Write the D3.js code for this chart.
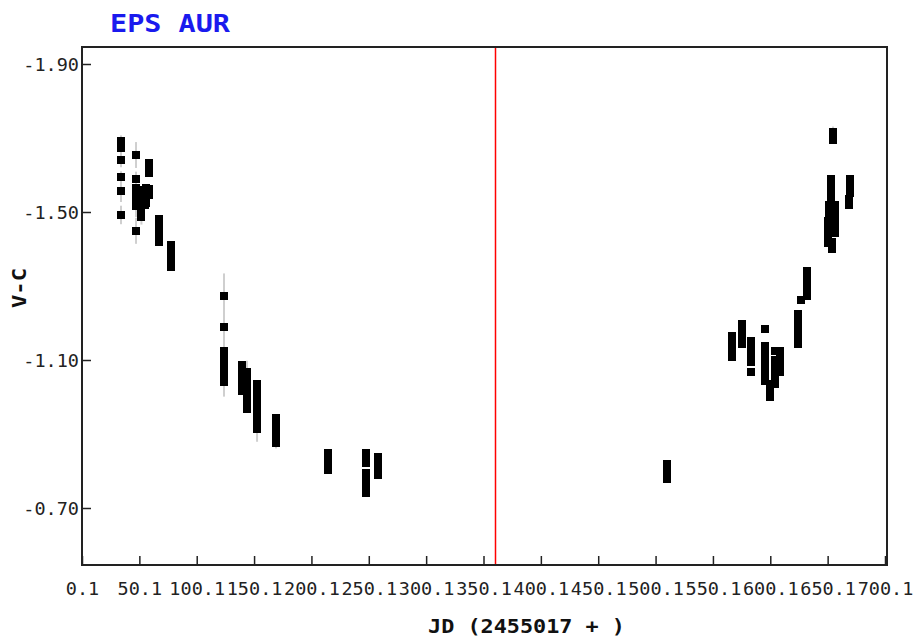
<!DOCTYPE html>
<html>
<head>
<meta charset="utf-8">
<script src="https://cdn.jsdelivr.net/npm/d3@7"></script>
<style>
  html, body { margin: 0; padding: 0; background: #ffffff; }
  svg { display: block; }
</style>
</head>
<body>
<div id="chart"></div>
<script>
// ---------- data ----------
const title = "EPS AUR";
const xTitle = "JD (2455017 + )";
const yTitle = "V-C";

// x ticks (JD offset) and their labels
const xTickValues = [0, 50, 100, 150, 200, 250, 300, 350, 400, 450, 500, 550, 600, 650, 700];
const xTickLabels = ["0.1", "50.1", "100.1", "150.1", "200.1", "250.1", "300.1", "350.1",
                     "400.1", "450.1", "500.1", "550.1", "600.1", "650.1", "700.1"];
const yTickValues = [-1.90, -1.50, -1.10, -0.70];
const yTickLabels = ["-1.90", "-1.50", "-1.10", "-0.70"];

// marker line (JD offset)
const markerJD = [360];

// observations: JD offset, V-C magnitude, error
const jd = [
  34.0, 34.0, 34.0, 34.0, 34.0, 34.0,
  47.1, 47.1, 47.1, 47.1, 47.1, 47.1, 47.1,
  50.6, 50.6, 51.2, 51.2, 51.8, 54.0, 54.0, 55.0, 55.5, 56.0,
  58.4, 58.4, 58.4, 58.4, 58.4,
  67.1, 67.1, 67.1, 67.1, 67.1,
  77.6, 77.6, 77.6, 77.6, 77.6,
  123.8, 123.8, 123.8, 123.8, 123.8, 123.8, 123.8,
  139.5, 139.5, 139.5, 139.5, 139.5,
  143.8, 143.8, 143.8, 143.8, 143.8, 143.8,
  152.6, 152.6, 152.6, 152.6, 152.6, 152.6, 152.6,
  169.1, 169.1, 169.1, 169.1, 169.1,
  214.5, 214.5, 214.5, 214.5,
  247.6, 247.6, 247.6, 247.6, 247.6, 247.6, 247.6, 247.6,
  258.0, 258.0, 258.0, 258.0, 258.0,
  509.9, 509.9, 509.9,
  566.6, 566.6, 566.6, 566.6,
  575.4, 575.4, 575.4, 575.4,
  583.2, 583.2, 583.2, 583.2, 583.2,
  595.4,
  595.4, 595.4, 595.4, 595.4, 595.4, 595.4,
  599.8, 599.8, 599.8,
  604.1, 604.1, 604.1, 604.1, 604.1,
  608.5, 608.5, 608.5, 608.5,
  624.2, 624.2, 624.2, 624.2, 624.2,
  626.8, 632.0,
  632.0, 632.0, 632.0, 632.0, 632.0,
  650.3, 650.3, 650.3, 650.3,
  653.8, 653.8,
  651.2, 651.2, 651.2, 651.2, 651.2,
  656.4, 656.4, 656.4, 656.4, 656.4,
  652.5, 652.5, 652.5, 652.5,
  654.7, 654.7,
  669.5, 669.5, 669.5, 668.8, 668.8
];
const vc = [
  -1.692, -1.673, -1.641, -1.595, -1.557, -1.492,
  -1.654, -1.589, -1.565, -1.549, -1.532, -1.516, -1.449,
  -1.559, -1.538, -1.516, -1.497, -1.486, -1.559, -1.541, -1.519, -1.565, -1.524,
  -1.632, -1.619, -1.605, -1.562, -1.546,
  -1.481, -1.465, -1.449, -1.432, -1.419,
  -1.411, -1.395, -1.378, -1.365, -1.351,
  -1.274, -1.189, -1.124, -1.105, -1.084, -1.062, -1.041,
  -1.086, -1.068, -1.046, -1.027, -1.016,
  -1.068, -1.046, -1.024, -1.003, -0.984, -0.968,
  -1.035, -1.014, -0.992, -0.970, -0.949, -0.930, -0.914,
  -0.943, -0.927, -0.908, -0.892, -0.876,
  -0.849, -0.830, -0.814, -0.803,
  -0.849, -0.836, -0.822, -0.795, -0.781, -0.768, -0.755, -0.741,
  -0.838, -0.825, -0.811, -0.800, -0.789,
  -0.819, -0.800, -0.778,
  -1.165, -1.146, -1.127, -1.108,
  -1.197, -1.178, -1.159, -1.143,
  -1.151, -1.132, -1.114, -1.095, -1.068,
  -1.185,
  -1.138, -1.119, -1.100, -1.081, -1.062, -1.043,
  -1.035, -1.014, -1.000,
  -1.124, -1.100, -1.078, -1.057, -1.035,
  -1.124, -1.105, -1.086, -1.068,
  -1.224, -1.203, -1.181, -1.159, -1.143,
  -1.262, -1.273,
  -1.341, -1.329, -1.316, -1.304, -1.292,
  -1.476, -1.454, -1.432, -1.416,
  -1.419, -1.400,
  -1.519, -1.500, -1.481, -1.462, -1.443,
  -1.519, -1.500, -1.481, -1.462, -1.443,
  -1.589, -1.570, -1.551, -1.530,
  -1.716, -1.695,
  -1.589, -1.570, -1.551, -1.535, -1.519
];
const err = [
  0.015, 0.015, 0.020, 0.015, 0.030, 0.025,
  0.035, 0.020, 0.010, 0.010, 0.010, 0.030, 0.035,
  0.010, 0.010, 0.010, 0.010, 0.020, 0.010, 0.010, 0.010, 0.010, 0.010,
  0.010, 0.010, 0.010, 0.010, 0.010,
  0.010, 0.010, 0.010, 0.010, 0.010,
  0.010, 0.010, 0.010, 0.010, 0.010,
  0.060, 0.050, 0.020, 0.020, 0.020, 0.020, 0.040,
  0.010, 0.010, 0.010, 0.010, 0.010,
  0.030, 0.010, 0.010, 0.010, 0.010, 0.010,
  0.010, 0.010, 0.010, 0.010, 0.010, 0.020, 0.035,
  0.010, 0.010, 0.010, 0.010, 0.015,
  0.005, 0.005, 0.005, 0.005,
  0.005, 0.005, 0.005, 0.005, 0.005, 0.005, 0.005, 0.005,
  0.005, 0.005, 0.005, 0.005, 0.005,
  0.005, 0.005, 0.005,
  0.005, 0.005, 0.005, 0.005,
  0.005, 0.005, 0.005, 0.005,
  0.005, 0.005, 0.005, 0.005, 0.005,
  0.005,
  0.005, 0.005, 0.005, 0.005, 0.005, 0.005,
  0.005, 0.005, 0.005,
  0.005, 0.005, 0.005, 0.005, 0.005,
  0.005, 0.005, 0.005, 0.005,
  0.005, 0.005, 0.005, 0.005, 0.005,
  0.005, 0.005,
  0.005, 0.005, 0.005, 0.005, 0.005,
  0.005, 0.005, 0.005, 0.005,
  0.005, 0.005,
  0.005, 0.005, 0.005, 0.005, 0.005,
  0.005, 0.005, 0.005, 0.005, 0.005,
  0.005, 0.005, 0.005, 0.005,
  0.015, 0.005,
  0.005, 0.005, 0.005, 0.005, 0.005
];

// ---------- layout ----------
const W = 922, H = 637;
const frame = { left: 82, right: 887, top: 47, bottom: 565 };
const monoFont = "'DejaVu Sans Mono', 'Liberation Mono', monospace";

const svg = d3.select("#chart").append("svg")
  .attr("width", W).attr("height", H)
  .style("font-family", monoFont);

const x = d3.scaleLinear().domain([0, 700]).range([82, 885]);
const y = d3.scaleLinear().domain([-1.90, -0.70]).range([64, 508]);

// title
svg.append("text")
  .attr("x", 110).attr("y", 32)
  .attr("textLength", 120).attr("lengthAdjust", "spacingAndGlyphs")
  .style("font-size", "25px").style("font-weight", "bold")
  .attr("fill", "#1a1aee")
  .text(title);

// data: error bars then markers
const pts = jd.map((d, i) => ({ jd: d, v: vc[i], e: err[i] }));

svg.append("g").selectAll("line").data(pts).join("line")
  .attr("x1", d => x(d.jd)).attr("x2", d => x(d.jd))
  .attr("y1", d => y(d.v - d.e)).attr("y2", d => y(d.v + d.e))
  .attr("stroke", "#cfcfcf").attr("stroke-width", 2);

svg.append("g").selectAll("rect").data(pts).join("rect")
  .attr("x", d => Math.round(x(d.jd)) - 4)
  .attr("y", d => Math.round(y(d.v)) - 4)
  .attr("width", 8).attr("height", 8)
  .attr("fill", "#000");

// red marker line
svg.append("g").selectAll("line").data(markerJD).join("line")
  .attr("x1", d => Math.round(x(d)) + 0.5).attr("x2", d => Math.round(x(d)) + 0.5)
  .attr("y1", frame.top).attr("y2", frame.bottom)
  .attr("stroke", "#ff0000").attr("stroke-width", 1.5);

// axes
const xAxis = d3.axisBottom(x)
  .tickValues(xTickValues)
  .tickFormat((d, i) => xTickLabels[i])
  .tickSizeInner(-9).tickSizeOuter(0).tickPadding(17);
const gx = svg.append("g").attr("transform", `translate(0,${frame.bottom})`).call(xAxis);
gx.select(".domain").remove();
gx.selectAll(".tick line").attr("stroke", "#222").attr("stroke-width", 1.5);
gx.selectAll(".tick text")
  .attr("fill", "#222")
  .style("font-family", monoFont).style("font-size", "18.5px");

const yAxis = d3.axisLeft(y)
  .tickValues(yTickValues)
  .tickFormat((d, i) => yTickLabels[i])
  .tickSizeInner(-9).tickSizeOuter(0).tickPadding(3);
const gy = svg.append("g").attr("transform", `translate(${frame.left},0)`).call(yAxis);
gy.select(".domain").remove();
gy.selectAll(".tick line").attr("stroke", "#222").attr("stroke-width", 1.5);
gy.selectAll(".tick text")
  .attr("fill", "#222").attr("dy", "0.36em")
  .style("font-family", monoFont).style("font-size", "18.5px");

// frame
svg.append("rect")
  .attr("x", frame.left).attr("y", frame.top)
  .attr("width", frame.right - frame.left).attr("height", frame.bottom - frame.top)
  .attr("fill", "none").attr("stroke", "#222").attr("stroke-width", 2);

// axis titles
svg.append("text")
  .attr("x", 428).attr("y", 633)
  .attr("textLength", 197).attr("lengthAdjust", "spacingAndGlyphs")
  .style("font-size", "20px").style("font-weight", "bold")
  .attr("fill", "#111")
  .text(xTitle);

svg.append("text")
  .attr("transform", "translate(26,308) rotate(-90)")
  .attr("textLength", 40).attr("lengthAdjust", "spacingAndGlyphs")
  .style("font-size", "20px").style("font-weight", "bold")
  .attr("fill", "#111")
  .text(yTitle);
</script>
</body>
</html>
